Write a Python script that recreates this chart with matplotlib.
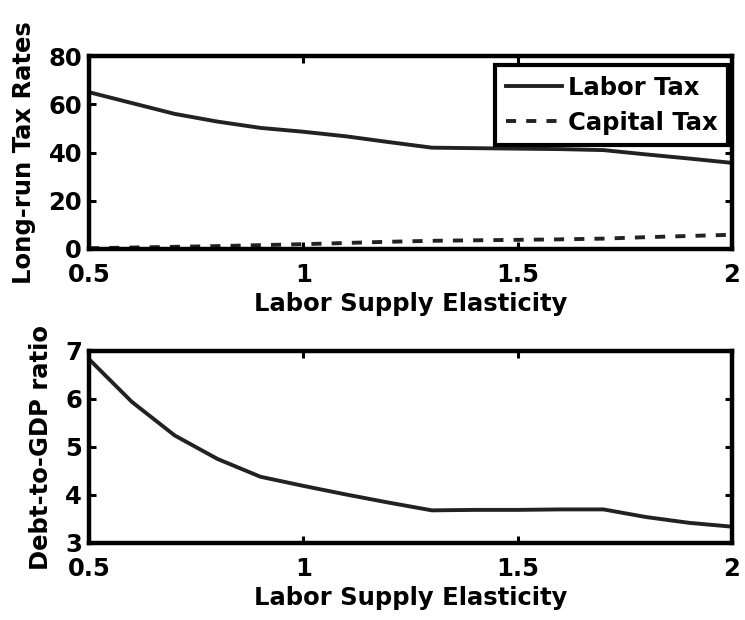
import matplotlib
matplotlib.use("Agg")
import matplotlib.pyplot as plt

# data
elasticity = [0.5, 0.6, 0.7, 0.8, 0.9, 1.0, 1.1, 1.2, 1.3, 1.4, 1.5, 1.6, 1.7, 1.8, 1.9, 2.0]
labor_tax = [65.0, 60.5, 56.0, 52.8, 50.2, 48.6, 46.7, 44.3, 42.0, 41.8, 41.6, 41.4, 41.0, 39.2, 37.5, 35.7]
capital_tax = [0.3, 0.6, 0.9, 1.2, 1.6, 2.0, 2.5, 3.0, 3.4, 3.6, 3.8, 4.0, 4.3, 4.9, 5.4, 5.9]
debt_gdp = [6.83, 5.94, 5.24, 4.75, 4.38, 4.19, 4.01, 3.84, 3.68, 3.69, 3.69, 3.70, 3.70, 3.54, 3.42, 3.34]

x_ticks = [0.5, 1, 1.5, 2]
x_ticklabels = ["0.5", "1", "1.5", "2"]
tax_ticks = [0, 20, 40, 60, 80]
debt_ticks = [3, 4, 5, 6, 7]

plt.rcParams["font.family"] = "DejaVu Sans"
plt.rcParams["font.weight"] = "bold"
plt.rcParams["font.size"] = 17.5

W, H = 745, 620
fig = plt.figure(figsize=(W / 100, H / 100), dpi=100)


def axes_px(l, t, r, b):
    return fig.add_axes([l / W, 1 - b / H, (r - l) / W, (b - t) / H])


line_col = "#222222"


def style(ax):
    for s in ax.spines.values():
        s.set_linewidth(3.2)
    ax.tick_params(direction="in", length=5, width=2.2, top=True, right=True,
                   labelsize=17.5)
    ax.tick_params(axis="x", pad=10)
    ax.tick_params(axis="y", pad=5)
    ax.set_xlim(0.5, 2)
    ax.set_xticks(x_ticks)
    ax.set_xticklabels(x_ticklabels)
    for lab in ax.get_xticklabels() + ax.get_yticklabels():
        lab.set_fontweight("bold")


# top panel
ax1 = axes_px(89, 56, 732, 249)
ax1.plot(elasticity, labor_tax, color=line_col, lw=2.8, label="Labor Tax")
ax1.plot(elasticity, capital_tax, color=line_col, lw=2.8, linestyle=(0, (2.6, 2.6)),
         label="Capital Tax")
ax1.set_ylim(0, 80)
ax1.set_yticks(tax_ticks)
style(ax1)
ax1.set_xlabel("Labor Supply Elasticity", fontweight="bold", labelpad=4)
ax1.set_ylabel("Long-run Tax Rates", fontweight="bold")
ax1.yaxis.set_label_coords(-0.082, 0.5)
leg = ax1.legend(loc="upper right", bbox_to_anchor=(0.994, 0.955), borderaxespad=0,
                 fancybox=False, edgecolor="black", framealpha=1,
                 handlelength=2.3, handletextpad=0.25, borderpad=0.45,
                 labelspacing=0.45, prop={"weight": "bold", "size": 17.5})
leg.get_frame().set_linewidth(3.0)

# bottom panel
ax2 = axes_px(89, 351, 732, 543)
ax2.plot(elasticity, debt_gdp, color=line_col, lw=2.8)
ax2.set_ylim(3, 7)
ax2.set_yticks(debt_ticks)
style(ax2)
ax2.set_xlabel("Labor Supply Elasticity", fontweight="bold", labelpad=4)
ax2.set_ylabel("Debt-to-GDP ratio", fontweight="bold")
ax2.yaxis.set_label_coords(-0.056, 0.5)

fig.savefig("out.png", dpi=100)
